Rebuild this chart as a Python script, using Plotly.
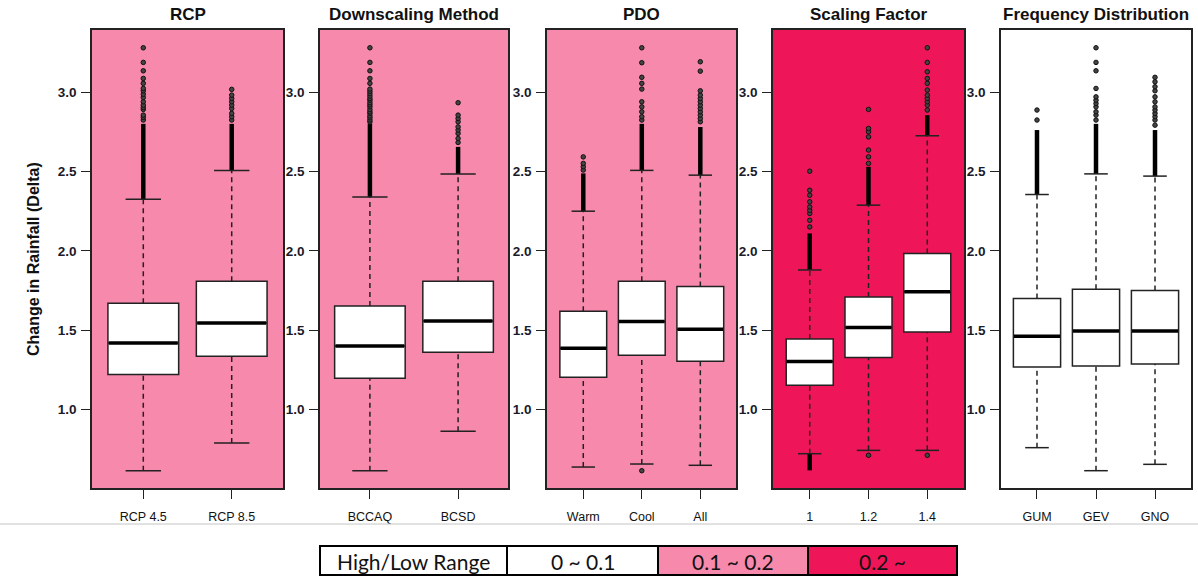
import plotly.graph_objects as go

W, H = 1198, 577

# ---------------- data ----------------
panel_titles = ["RCP", "Downscaling Method", "PDO", "Scaling Factor", "Frequency Distribution"]
panel_categories = [["RCP 4.5", "RCP 8.5"], ["BCCAQ", "BCSD"], ["Warm", "Cool", "All"],
                    ["1", "1.2", "1.4"], ["GUM", "GEV", "GNO"]]
panel_colors = ["#F689AC", "#F689AC", "#F689AC", "#EE1559", "#FFFFFF"]

# one entry per box, in panel order
q1 = [1.221, 1.336, 1.198, 1.362, 1.204, 1.343, 1.305, 1.154, 1.328, 1.490, 1.269, 1.275, 1.288]
median = [1.420, 1.546, 1.401, 1.559, 1.387, 1.555, 1.507, 1.303, 1.517, 1.742, 1.463, 1.496, 1.496]
q3 = [1.670, 1.809, 1.653, 1.809, 1.620, 1.809, 1.776, 1.446, 1.710, 1.984, 1.700, 1.759, 1.750]
whisker_low = [0.616, 0.790, 0.616, 0.864, 0.639, 0.658, 0.650, 0.723, 0.744, 0.744, 0.761, 0.616, 0.656]
whisker_high = [2.326, 2.507, 2.340, 2.485, 2.250, 2.507, 2.477, 1.880, 2.288, 2.725, 2.355, 2.485, 2.471]
# top of the dense (overlapping) band of upper outliers
dense_high = [2.800, 2.800, 2.800, 2.655, 2.488, 2.800, 2.780, 2.110, 2.529, 2.855, 2.761, 2.800, 2.761]
# bottom of the dense band of lower outliers (only Scaling Factor 1)
dense_low = [None, None, None, None, None, None, None, 0.618, None, None, None, None, None]
outliers = [
    [2.824, 2.841, 2.855, 2.891, 2.903, 2.918, 2.939, 2.966, 2.987, 3.008, 3.023, 3.055, 3.086, 3.134, 3.187, 3.279],
    [2.824, 2.845, 2.866, 2.897, 2.918, 2.939, 2.960, 2.981, 3.017],
    [2.812, 2.824, 2.838, 2.850, 2.866, 2.876, 2.890, 2.907, 2.920, 2.933, 2.949, 2.960, 2.975, 2.990,
     3.005, 3.019, 3.055, 3.086, 3.134, 3.187, 3.279],
    [2.683, 2.708, 2.740, 2.761, 2.781, 2.813, 2.834, 2.855, 2.933],
    [2.509, 2.530, 2.551, 2.592],
    [2.824, 2.845, 2.876, 2.907, 2.939, 3.019, 3.055, 3.093, 3.185, 3.279, 0.616],
    [2.813, 2.834, 2.855, 2.876, 2.897, 2.918, 2.939, 2.960, 2.981, 3.008, 3.132, 3.191],
    [2.151, 2.193, 2.236, 2.256, 2.277, 2.309, 2.351, 2.382, 2.502],
    [2.551, 2.592, 2.635, 2.718, 2.750, 2.771, 2.891, 0.713],
    [2.887, 2.918, 2.939, 2.960, 2.981, 3.013, 3.055, 3.086, 3.128, 3.187, 3.279, 0.713],
    [2.824, 2.887],
    [2.824, 2.855, 2.876, 2.907, 2.928, 2.949, 2.970, 3.023, 3.134, 3.187, 3.279],
    [2.792, 2.824, 2.845, 2.866, 2.887, 2.907, 2.939, 2.970, 3.008, 3.034, 3.065, 3.093],
]
y_ticks = [1.0, 1.5, 2.0, 2.5, 3.0]
legend_labels = ["High/Low Range", "0 ~ 0.1", "0.1 ~ 0.2", "0.2 ~"]
legend_colors = ["#FFFFFF", "#FFFFFF", "#F689AC", "#EE1559"]

# ---------------- layout constants ----------------
panel_px = [(92, 283), (320, 508), (547, 736), (773, 964), (1001, 1191)]
x_ranges = [[0.42, 2.58], [0.434, 2.566], [0.38, 3.61], [0.375, 3.625], [0.39, 3.61]]
y_range = [0.507, 3.391]
plot_top_px, plot_bot_px = 30, 488
BOXW = 0.8
CAPW = 0.4
DARK = "#222222"


def px_x(p):
    return p / W


def px_y(p):
    return 1 - p / H


fig = go.Figure()
layout_axes = {}
shapes = []
annotations = []

box_i = 0
for k, cats in enumerate(panel_categories):
    n = k + 1
    xa = "x" if n == 1 else f"x{n}"
    ya = "y" if n == 1 else f"y{n}"
    xkey = "xaxis" if n == 1 else f"xaxis{n}"
    ykey = "yaxis" if n == 1 else f"yaxis{n}"
    positions = list(range(1, len(cats) + 1))
    for pos in positions:
        i = box_i
        # dashed whiskers
        for a, b in [(q3[i], whisker_high[i]), (whisker_low[i], q1[i])]:
            fig.add_trace(go.Scatter(x=[pos, pos], y=[a, b], mode="lines", xaxis=xa, yaxis=ya,
                                     line=dict(color=DARK, width=1.5, dash="5px,4px"),
                                     showlegend=False, hoverinfo="skip"))
        # dense outlier bands
        fig.add_trace(go.Scatter(x=[pos, pos], y=[whisker_high[i], dense_high[i]], mode="lines",
                                 xaxis=xa, yaxis=ya, line=dict(color="black", width=4.5),
                                 showlegend=False, hoverinfo="skip"))
        if dense_low[i] is not None:
            fig.add_trace(go.Scatter(x=[pos, pos], y=[dense_low[i], whisker_low[i]], mode="lines",
                                     xaxis=xa, yaxis=ya, line=dict(color="black", width=4.5),
                                     showlegend=False, hoverinfo="skip"))
        # caps
        for v in [whisker_high[i], whisker_low[i]]:
            fig.add_trace(go.Scatter(x=[pos - CAPW / 2, pos + CAPW / 2], y=[v, v], mode="lines",
                                     xaxis=xa, yaxis=ya, line=dict(color=DARK, width=1.5),
                                     showlegend=False, hoverinfo="skip"))
        # outliers
        fig.add_trace(go.Scatter(x=[pos] * len(outliers[i]), y=outliers[i], mode="markers",
                                 xaxis=xa, yaxis=ya,
                                 marker=dict(symbol="circle", size=4.5, color="#444",
                                             line=dict(width=1, color="#111")),
                                 showlegend=False, hoverinfo="skip"))
        # box
        fig.add_trace(go.Box(x=[pos], q1=[q1[i]], median=[median[i]], q3=[q3[i]],
                             lowerfence=[q1[i]], upperfence=[q3[i]], width=BOXW,
                             fillcolor="white", line=dict(color=DARK, width=1.5),
                             xaxis=xa, yaxis=ya, boxpoints=False, showlegend=False,
                             hoverinfo="skip"))
        # thick median
        fig.add_trace(go.Scatter(x=[pos - BOXW / 2 + 0.01, pos + BOXW / 2 - 0.01],
                                 y=[median[i], median[i]], mode="lines", xaxis=xa, yaxis=ya,
                                 line=dict(color="black", width=3.5),
                                 showlegend=False, hoverinfo="skip"))
        box_i += 1

    l, r = panel_px[k]
    layout_axes[xkey] = dict(
        domain=[px_x(l), px_x(r)], range=x_ranges[k], anchor=ya, type="linear",
        tickvals=positions, ticktext=cats, ticks="outside", ticklen=9, tickwidth=1.3,
        tickcolor=DARK, showgrid=False, zeroline=False, showline=True, mirror=True,
        linecolor=DARK, linewidth=1.5, ticklabelstandoff=7,
        tickfont=dict(family="Liberation Sans, Arial", size=12.5, color="#111"),
        fixedrange=True,
    )
    layout_axes[ykey] = dict(
        domain=[px_y(plot_bot_px), px_y(plot_top_px)], range=y_range, anchor=xa,
        tickvals=y_ticks, tickformat=".1f", ticks="outside", ticklen=9, tickwidth=1.3,
        tickcolor=DARK, showgrid=False, zeroline=False, showline=True, mirror=True,
        linecolor=DARK, linewidth=1.5, ticklabelstandoff=2,
        tickfont=dict(family="Liberation Sans, Arial", size=13.5, color="#1a1a2a", weight="bold"),
        fixedrange=True,
    )
    # panel background
    shapes.append(dict(type="rect", xref=f"{xa} domain", yref=f"{ya} domain",
                       x0=0, x1=1, y0=0, y1=1, fillcolor=panel_colors[k],
                       line=dict(width=0), layer="below"))
    # panel title
    annotations.append(dict(text=f"<b>{panel_titles[k]}</b>", xref="paper", yref="paper",
                            x=px_x((l + r) / 2), y=px_y(14), xanchor="center", yanchor="middle",
                            showarrow=False,
                            font=dict(family="Liberation Sans, Arial", size=17, color="#111")))

# y-axis title
annotations.append(dict(text="<b>Change in Rainfall (Delta)</b>", xref="paper", yref="paper",
                        x=px_x(33), y=px_y((plot_top_px + plot_bot_px) / 2), textangle=-90,
                        xanchor="center", yanchor="middle", showarrow=False,
                        font=dict(family="Liberation Sans, Arial", size=16, color="#111")))

# separator line
shapes.append(dict(type="line", xref="paper", yref="paper", x0=0, x1=1,
                   y0=px_y(524), y1=px_y(524), line=dict(color="#c4c4c4", width=1)))

# bottom legend table
cell_edges = [320, 507, 658, 808, 957]
t_top, t_bot = 546, 575
for j, lab in enumerate(legend_labels):
    x0, x1 = cell_edges[j], cell_edges[j + 1]
    shapes.append(dict(type="rect", xref="paper", yref="paper", x0=px_x(x0), x1=px_x(x1),
                       y0=px_y(t_bot), y1=px_y(t_top), fillcolor=legend_colors[j],
                       line=dict(color="black", width=2)))
    annotations.append(dict(text=lab, xref="paper", yref="paper", x=px_x((x0 + x1) / 2),
                            y=px_y((t_top + t_bot) / 2 + 1), xanchor="center", yanchor="middle",
                            showarrow=False,
                            font=dict(family="Lato, Open Sans", size=21, color="#111")))

fig.update_layout(
    width=W, height=H, margin=dict(l=0, r=0, t=0, b=0),
    paper_bgcolor="white", plot_bgcolor="rgba(0,0,0,0)",
    shapes=shapes, annotations=annotations, showlegend=False,
    **layout_axes,
)

fig.write_html("out.html", config={"displayModeBar": False})
